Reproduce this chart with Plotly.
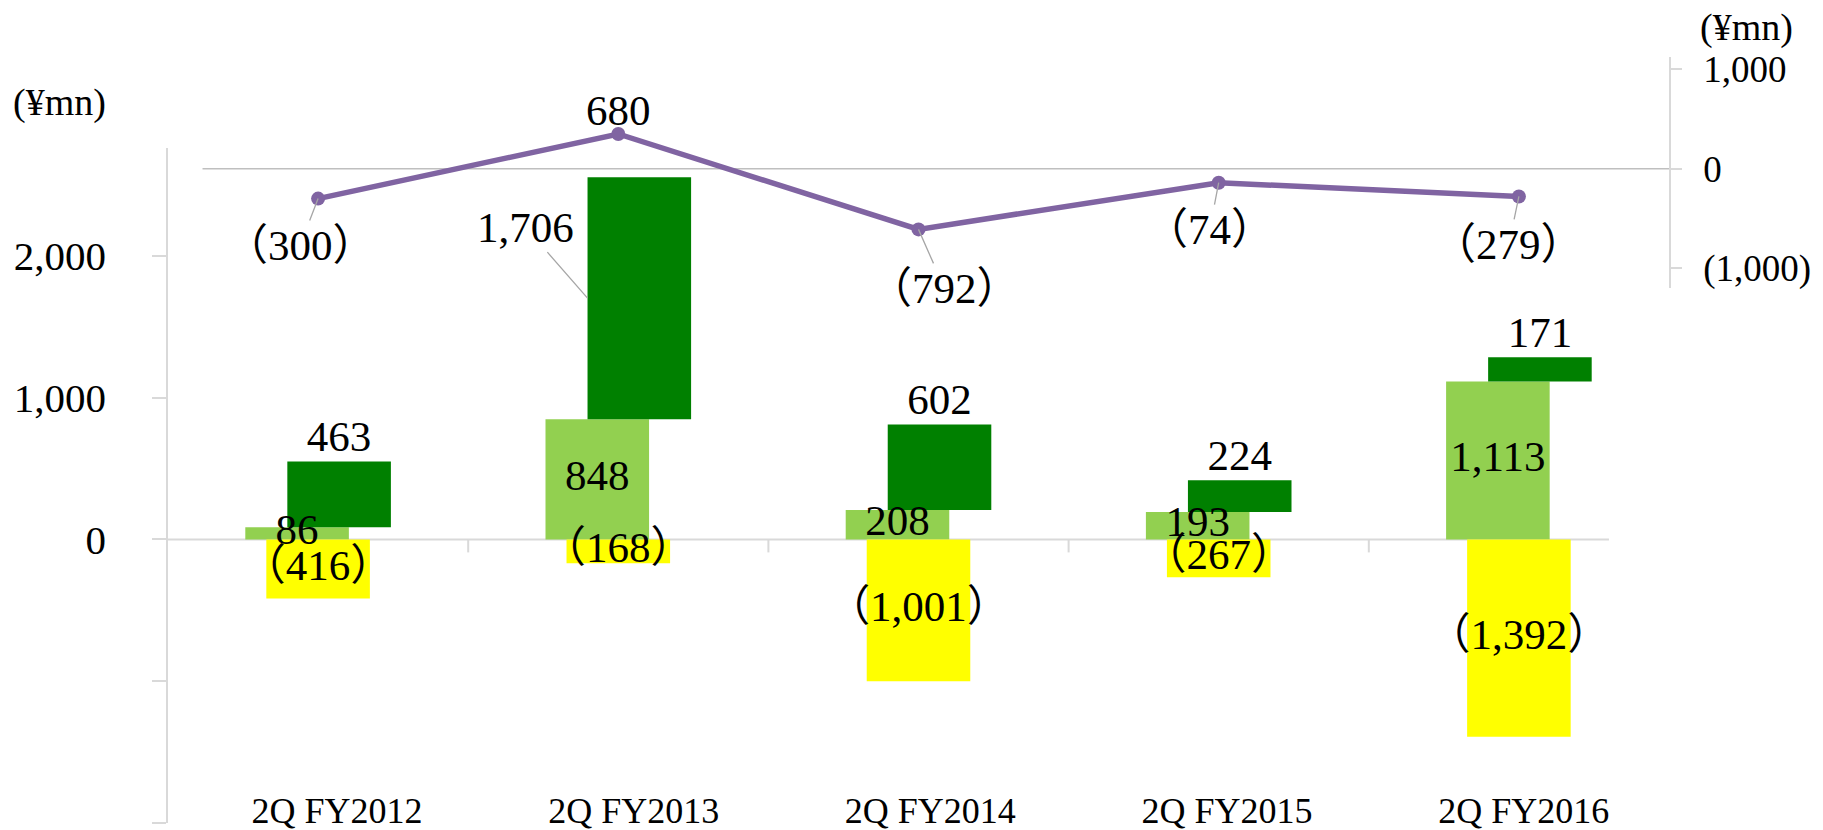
import plotly.graph_objects as go

# ---------------- data ----------------
categories = ["2Q FY2012", "2Q FY2013", "2Q FY2014", "2Q FY2015", "2Q FY2016"]
base_values = [86, 848, 208, 193, 1113]          # light green
increment_values = [463, 1706, 602, 224, 171]     # dark green (stacked on light green)
negative_values = [-416, -168, -1001, -267, -1392]  # yellow
# purple line (right axis): plotted positions as they appear in the picture
line_values = [-300, 350, -610, -140, -279]
# printed data labels of the purple line
line_labels = ["（300）", "680", "（792）", "（74）", "（279）"]
left_tick_values = [-2000, -1000, 0, 1000, 2000]
left_tick_text = ["", "", "0", "1,000", "2,000"]
right_tick_values = [-1000, 0, 1000]
right_tick_text = ["(1,000)", "0", "1,000"]
unit_label = "(¥mn)"


def fmt(v):
    s = f"{abs(v):,}"
    return f"（{s}）" if v < 0 else s


# ---------------- style ----------------
SERIF = "Liberation Serif, Times New Roman, Noto Sans CJK JP, serif"
LIGHT = "#92D050"
DARK = "#008000"
YELLOW = "#FFFF00"
PURPLE = "#8064A2"
GRID = "#D9D9D9"
BAR_W = 0.345
SHIFT = 0.07
LABEL_SIZE = 43
AXIS_SIZE = 41
CAT_SIZE = 36
RIGHT_SIZE = 37
UNIT_SIZE = 38

W, H = 1823, 830
L, R = 168, 154
PW = W - L - R
idx = list(range(len(categories)))


def px_x(p):  # pixel column -> paper x
    return (p - L) / PW


def px_y(p):  # pixel row -> paper y
    return 1 - p / H


fig = go.Figure()

# bars
fig.add_trace(go.Bar(x=idx, y=base_values, width=BAR_W, offset=-SHIFT - BAR_W / 2,
                     marker=dict(color=LIGHT, line=dict(width=0)), xaxis="x", yaxis="y"))
fig.add_trace(go.Bar(x=idx, y=negative_values, width=BAR_W, offset=-BAR_W / 2,
                     marker=dict(color=YELLOW, line=dict(width=0)), xaxis="x", yaxis="y"))
fig.add_trace(go.Bar(x=idx, y=increment_values, base=base_values, width=BAR_W,
                     offset=SHIFT - BAR_W / 2,
                     marker=dict(color=DARK, line=dict(width=0)), xaxis="x", yaxis="y"))

# bar labels
label_font = dict(family=SERIF, size=LABEL_SIZE, color="black")
fig.add_trace(go.Scatter(x=[i - SHIFT for i in idx], y=[b / 2 for b in base_values],
                         mode="text", text=[fmt(v) for v in base_values],
                         textposition="middle center", textfont=label_font,
                         xaxis="x", yaxis="y"))
fig.add_trace(go.Scatter(x=idx, y=[n / 2 for n in negative_values],
                         mode="text", text=[fmt(v) for v in negative_values],
                         textposition="middle center", textfont=label_font,
                         xaxis="x", yaxis="y"))
leader_idx = 1  # the tall dark-green bar has its label pulled out with a leader line
dark_text = [fmt(v) if i != leader_idx else "" for i, v in enumerate(increment_values)]
fig.add_trace(go.Scatter(x=[i + SHIFT for i in idx],
                         y=[b + v for b, v in zip(base_values, increment_values)],
                         mode="text", text=dark_text, textposition="top center",
                         textfont=label_font, xaxis="x", yaxis="y"))

# purple line on the upper right-axis panel
fig.add_trace(go.Scatter(x=idx, y=line_values, mode="lines+markers",
                         line=dict(color=PURPLE, width=5.5),
                         marker=dict(color=PURPLE, size=14),
                         xaxis="x2", yaxis="y2"))

# carrier for the category-label axis
fig.add_trace(go.Scatter(x=[], y=[], xaxis="x3", yaxis="y", showlegend=False))

annotations = []
# leader-lined label for the tall dark-green bar
annotations.append(dict(
    x=leader_idx + SHIFT - BAR_W / 2,
    y=base_values[leader_idx] + increment_values[leader_idx] / 2,
    xref="x", yref="y", text=fmt(increment_values[leader_idx]),
    showarrow=True, arrowhead=0, arrowwidth=1.3, arrowcolor="#A6A6A6",
    ax=-62, ay=-71, font=label_font))

# line labels
line_offsets = [(-18, 47), None, (26, 59), (-9, 47), (-10, 48)]
for i, (v, t) in enumerate(zip(line_values, line_labels)):
    off = line_offsets[i]
    if off is None:
        annotations.append(dict(x=i, y=v, xref="x2", yref="y2", text=t,
                                showarrow=False, yshift=24, font=label_font))
    else:
        annotations.append(dict(x=i, y=v, xref="x2", yref="y2", text=t,
                                showarrow=True, arrowhead=0, arrowwidth=1.3,
                                arrowcolor="#A6A6A6", ax=off[0], ay=off[1],
                                font=label_font))

# unit labels
unit_font = dict(family=SERIF, size=UNIT_SIZE, color="black")
annotations.append(dict(x=px_x(60), y=px_y(102), xref="paper", yref="paper",
                        text=unit_label, showarrow=False, xanchor="center",
                        yanchor="middle", font=unit_font))
annotations.append(dict(x=px_x(1746), y=px_y(27), xref="paper", yref="paper",
                        text=unit_label, showarrow=False, xanchor="center",
                        yanchor="middle", font=unit_font))

shapes = []
# horizontal axis line at zero for the bars
shapes.append(dict(type="line", xref="x", yref="y", x0=-0.523, x1=4.3, y0=0, y1=0,
                   line=dict(color=GRID, width=2), layer="below"))
# category boundary tick marks hanging from the zero line
for b in [i + 0.5 for i in idx[:-1]]:
    shapes.append(dict(type="line", xref="x", yref="y", x0=b, x1=b,
                       ysizemode="pixel", yanchor=0, y0=0, y1=-13,
                       line=dict(color=GRID, width=2), layer="below"))
# zero line of the right-axis panel
shapes.append(dict(type="line", xref="x2 domain", yref="y2", x0=0.023, x1=1, y0=0, y1=0,
                   line=dict(color="#BFBFBF", width=1.5), layer="below"))

fig.update_layout(
    width=W, height=H,
    margin=dict(l=L, r=R, t=0, b=0, autoexpand=False),
    paper_bgcolor="white", plot_bgcolor="rgba(0,0,0,0)",
    showlegend=False, barmode="overlay",
    font=dict(family=SERIF, size=AXIS_SIZE, color="black"),
    xaxis=dict(domain=[0, 1], range=[-0.5, 4.5], showticklabels=False, ticks="",
               showline=False, showgrid=False, zeroline=False, anchor="y",
               automargin=False),
    # category label axis (labels spaced as in the picture)
    xaxis3=dict(overlaying="x", domain=[0, 1], range=[-0.57, 4.49], tickvals=idx,
                ticktext=categories, anchor="free", position=px_y(786), ticks="",
                showline=False, showgrid=False, zeroline=False, automargin=False,
                tickfont=dict(family=SERIF, size=CAT_SIZE, color="black")),
    yaxis=dict(domain=[7 / H, 682 / H], range=[-2000, 2760], tickvals=left_tick_values,
               ticktext=left_tick_text, ticks="outside", ticklen=14, tickwidth=1.5,
               tickcolor=GRID, showline=True, linecolor=GRID, linewidth=1.5,
               showgrid=False, zeroline=False, ticklabelstandoff=38, automargin=False,
               tickfont=dict(family=SERIF, size=AXIS_SIZE, color="black")),
    xaxis2=dict(domain=[0, 1], range=[-0.5, 4.5], anchor="y2", visible=False,
                showgrid=False, zeroline=False, automargin=False),
    yaxis2=dict(domain=[542 / H, 773 / H], range=[-1200, 1125], anchor="x2", side="right",
                tickvals=right_tick_values, ticktext=right_tick_text, ticks="outside",
                ticklen=11, tickwidth=1.5, tickcolor=GRID, showline=True, linecolor=GRID,
                linewidth=1.5, showgrid=False, zeroline=False, ticklabelstandoff=14,
                automargin=False,
                tickfont=dict(family=SERIF, size=RIGHT_SIZE, color="black")),
    annotations=annotations,
    shapes=shapes,
)

fig.write_html("out.html")
